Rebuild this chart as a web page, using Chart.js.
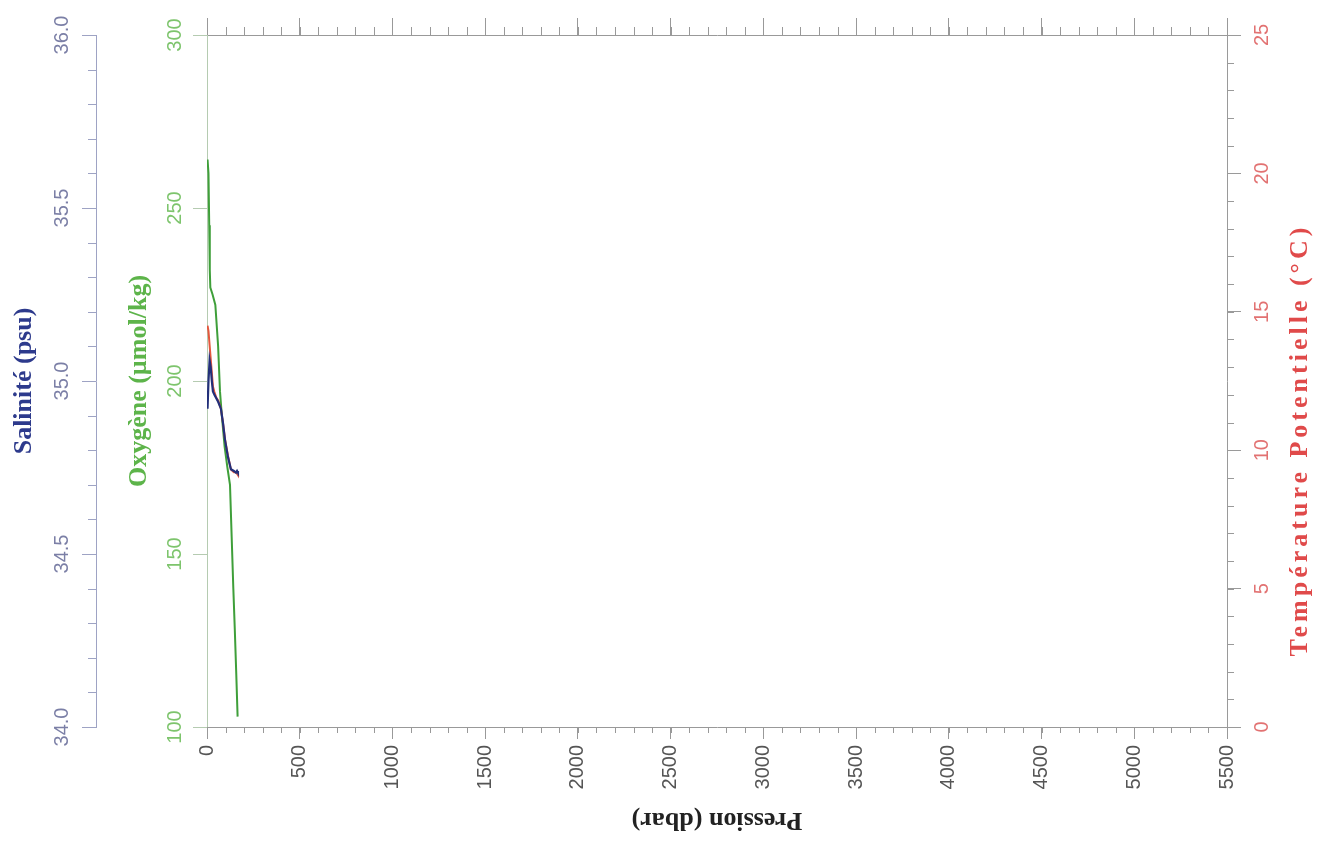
<!DOCTYPE html>
<html>
<head>
<meta charset="utf-8">
<script src="https://cdn.jsdelivr.net/npm/chart.js@4/dist/chart.umd.min.js"></script>
<style>
  html, body { margin: 0; padding: 0; background: #fff; }
  #wrap { width: 1327px; height: 844px; }
</style>
</head>
<body>
<div id="wrap"><canvas id="profile" width="1327" height="844"></canvas></div>
<script>
// profile values
const pressureO2 = [3, 8, 12, 15, 18, 30, 45, 60, 70, 80, 95, 110, 124, 133, 142, 150, 158, 165];
const oxygen = [264, 260, 245, 232, 227, 225, 222, 210, 197, 190, 181, 175, 170, 155, 140, 128, 115, 103];

const pressureCTD = [3, 8, 14, 20, 26, 32, 40, 50, 60, 75, 86, 97, 113, 129, 145, 156, 162, 167];
const temperature = [14.5, 14.3, 13.8, 13.3, 12.8, 12.3, 12.1, 11.9, 11.8, 11.5, 11.0, 10.4, 9.8, 9.3, 9.2, 9.2, 9.15, 9.1];
const salinity = [34.92, 35.0, 35.06, 35.04, 35.0, 34.97, 34.96, 34.95, 34.94, 34.92, 34.88, 34.83, 34.78, 34.745, 34.74, 34.735, 34.74, 34.735];

const pressureTicks = [0, 5500, 500];
const salinityTicks = [34, 36, 0.5];
const oxygenTicks = [100, 300, 50];
const temperatureTicks = [0, 25, 5];

const titles = {
  pressure: "Pression (dbar)",
  salinity: "Salinité (psu)",
  oxygen: "Oxygène (µmol/kg)",
  temperature: "Température Potentielle (°C)"
};

const tickFont = { family: "'Liberation Sans', Arial, sans-serif", size: 20 };
const titleFont = { family: "'Liberation Serif', 'Times New Roman', serif", size: 26, weight: "bold" };

function toPoints(xs, ys) {
  return xs.map((x, i) => ({ x, y: ys[i] }));
}

// minor tick marks, drawn from each scale's own pixel mapping
const minorTicks = {
  x: { step: 100, len: 6 },
  x2: { step: 100, len: 8 },
  sal: { step: 0.1, len: 8 },
  temp: { step: 1, len: 7 }
};

const extrasPlugin = {
  id: "extras",
  afterDraw(chart) {
    const ctx = chart.ctx;
    ctx.save();
    ctx.lineWidth = 1;
    Object.entries(minorTicks).forEach(([id, m]) => {
      const s = chart.scales[id];
      ctx.strokeStyle = s.options.grid.tickColor;
      const n = Math.round((s.max - s.min) / m.step);
      for (let i = 0; i <= n; i++) {
        const v = s.min + i * m.step;
        const p = Math.round(s.getPixelForValue(v)) + 0.5;
        ctx.beginPath();
        if (s.position === "bottom") { ctx.moveTo(p, s.top); ctx.lineTo(p, s.top + m.len); }
        else if (s.position === "top") { ctx.moveTo(p, s.bottom); ctx.lineTo(p, s.bottom - m.len); }
        else if (s.position === "left") { ctx.moveTo(s.right, p); ctx.lineTo(s.right - m.len, p); }
        else { ctx.moveTo(s.left, p); ctx.lineTo(s.left + m.len, p); }
        ctx.stroke();
      }
    });

    ctx.font = `bold ${titleFont.size}px ${titleFont.family}`;
    ctx.textAlign = "center";
    ctx.textBaseline = "middle";

    // temperature title reads bottom to top
    const t = chart.scales.temp;
    ctx.save();
    ctx.fillStyle = "#e04a4a";
    ctx.letterSpacing = "4px";
    ctx.translate(t.right - 27, 440);
    ctx.rotate(-Math.PI / 2);
    ctx.fillText(titles.temperature, 0, 0);
    ctx.restore();

    // pressure title is upside down
    const a = chart.chartArea;
    ctx.save();
    ctx.fillStyle = "#222";
    ctx.translate((a.left + a.right) / 2, 820);
    ctx.rotate(Math.PI);
    ctx.fillText(titles.pressure, 0, 0);
    ctx.restore();

    ctx.restore();
  }
};

function yAxis(position, range, color, lineColor, tickLen, pad, width, extra) {
  return Object.assign({
    type: "linear",
    position,
    min: range[0],
    max: range[1],
    afterFit: s => { s.width = width; },
    border: { display: true, color: lineColor, width: 1 },
    grid: { drawOnChartArea: false, drawTicks: true, tickLength: tickLen, tickColor: lineColor },
    ticks: {
      stepSize: range[2],
      minRotation: 90,
      maxRotation: 90,
      crossAlign: "center",
      padding: pad,
      color,
      font: tickFont
    }
  }, extra);
}

new Chart(document.getElementById("profile"), {
  type: "line",
  data: {
    datasets: [
      {
        label: titles.salinity,
        data: toPoints(pressureCTD, salinity),
        yAxisID: "sal",
        borderColor: "#23307a",
        borderWidth: 2.2
      },
      {
        label: titles.temperature,
        data: toPoints(pressureCTD, temperature),
        yAxisID: "temp",
        borderColor: "#e4573d",
        borderWidth: 2
      },
      {
        label: titles.oxygen,
        data: toPoints(pressureO2, oxygen),
        yAxisID: "oxy",
        borderColor: "#3f9f3a",
        borderWidth: 2
      }
    ]
  },
  options: {
    responsive: false,
    animation: false,
    elements: { point: { radius: 0 }, line: { tension: 0 } },
    layout: { padding: 0 },
    plugins: { legend: { display: false }, tooltip: { enabled: false } },
    scales: {
      x: {
        type: "linear",
        position: "bottom",
        min: pressureTicks[0],
        max: pressureTicks[1],
        afterFit: s => { s.height = 117; },
        border: { display: true, color: "#999", width: 1 },
        grid: { drawOnChartArea: false, tickLength: 12, tickColor: "#999" },
        ticks: {
          stepSize: pressureTicks[2],
          minRotation: 90,
          maxRotation: 90,
          padding: 6,
          autoSkip: false,
          color: "#555",
          font: tickFont,
          callback: v => String(v)
        }
      },
      x2: {
        type: "linear",
        position: "top",
        min: pressureTicks[0],
        max: pressureTicks[1],
        afterFit: s => { s.height = 35; },
        border: { display: true, color: "#999", width: 1 },
        grid: { drawOnChartArea: false, tickLength: 17, tickColor: "#999" },
        ticks: { stepSize: pressureTicks[2], display: false }
      },
      oxy: yAxis("left", oxygenTicks, "#7dc46c", "#b5cbb1", 14, 1.3, 111, {
        weight: 0,
        title: { display: true, text: titles.oxygen, color: "#5db44a", font: titleFont, padding: { top: 27.4, bottom: 0 } }
      }),
      sal: yAxis("left", salinityTicks, "#7b7fa6", "#9ea3c4", 14, 0.5, 96, {
        weight: 1,
        title: { display: true, text: titles.salinity, color: "#2d3a8c", font: titleFont, padding: { top: 8.4, bottom: 0 } }
      }),
      temp: yAxis("right", temperatureTicks, "#e27272", "#9a9a9a", 14, 9.9, 100, {})
    }
  },
  plugins: [extrasPlugin]
});

// tick label formats
const chart = Chart.getChart("profile");
chart.options.scales.sal.ticks.callback = v => Number(v).toFixed(1);
chart.options.scales.oxy.ticks.callback = v => String(v);
chart.options.scales.temp.ticks.callback = v => String(v);
chart.update();
</script>
</body>
</html>
